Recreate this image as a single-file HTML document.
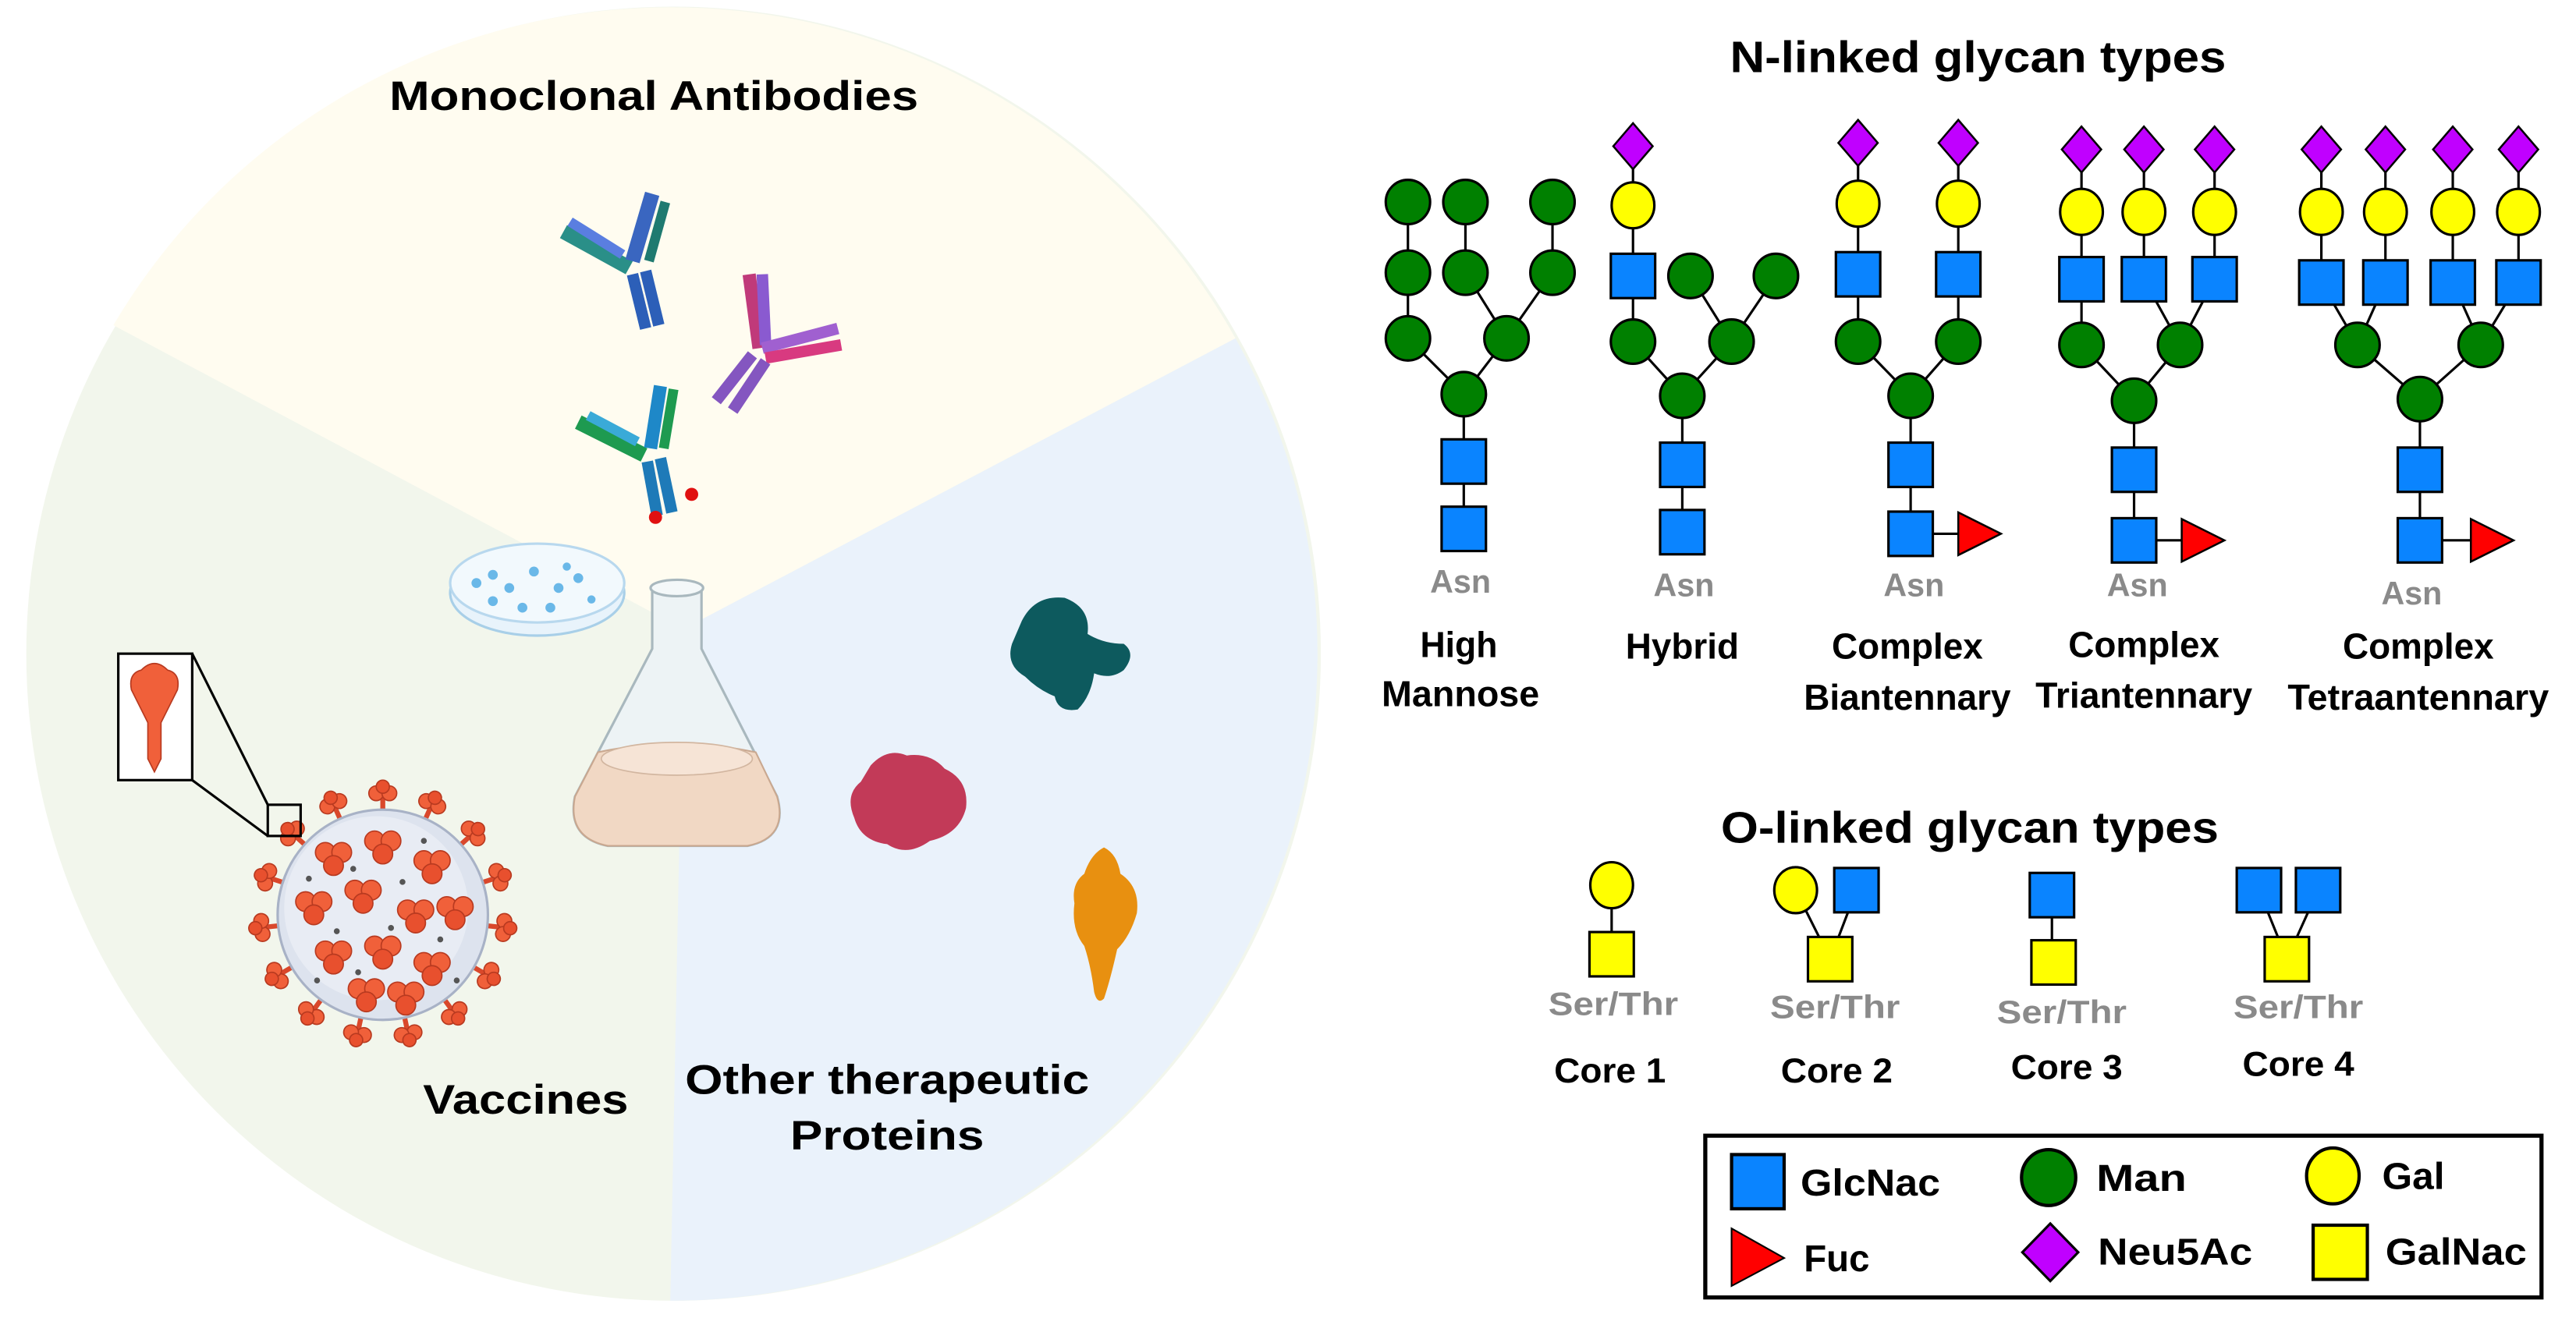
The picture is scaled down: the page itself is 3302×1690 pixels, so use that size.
<!DOCTYPE html>
<html><head><meta charset="utf-8"><style>
html,body{margin:0;padding:0;background:#fff;}
svg{display:block;}
.t{font-family:"Liberation Sans",sans-serif;font-weight:bold;fill:#000;}
.n{font-family:"Liberation Sans Narrow","Liberation Sans",sans-serif;font-weight:bold;fill:#000;}
.g{font-family:"Liberation Sans Narrow","Liberation Sans",sans-serif;font-weight:bold;fill:#8a8a8a;}
</style></head><body>
<svg width="3302" height="1690" viewBox="0 0 1568 802.5" xmlns="http://www.w3.org/2000/svg">
<defs>
<circle id="man" r="13.5" fill="#008000" stroke="#000" stroke-width="1.5"/>
<ellipse id="gal" rx="13" ry="14" fill="#ffff00" stroke="#000" stroke-width="1.5"/>
<rect id="sq" x="-13.5" y="-13.5" width="27" height="27" fill="#0a84ff" stroke="#000" stroke-width="1.5"/>
<rect id="ysq" x="-13.5" y="-13.5" width="27" height="27" fill="#ffff00" stroke="#000" stroke-width="1.5"/>
<polygon id="dia" points="0,-14 12,0 0,14 -12,0" fill="#c000ff" stroke="#000" stroke-width="1.2"/>
<polygon id="fuc" points="0,-13 26,0 0,13" fill="#ff0000" stroke="#000" stroke-width="1.2"/>
<g id="virspike"><path d="M0,0 L0,-10" stroke="#d9482b" stroke-width="3"/><circle cx="-4" cy="-12" r="4.5" fill="#f0603a" stroke="#b83a20" stroke-width="0.8"/><circle cx="4" cy="-12" r="4.5" fill="#f0603a" stroke="#b83a20" stroke-width="0.8"/><circle cx="0" cy="-16" r="4" fill="#e8502e" stroke="#b83a20" stroke-width="0.8"/></g>
<g id="blob3"><circle cx="-5" cy="-3" r="6" fill="#f0603a" stroke="#b83a20" stroke-width="0.8"/><circle cx="5" cy="-3" r="6" fill="#f0603a" stroke="#b83a20" stroke-width="0.8"/><circle cx="0" cy="5" r="6" fill="#e8502e" stroke="#b83a20" stroke-width="0.8"/></g>
</defs>

<!-- pie -->
<circle cx="410" cy="398" r="394" fill="#f2f6ec"/>
<path d="M416,383 L69,198 A394,394 0 0 1 752,206 Z" fill="#fffcf0"/>
<path d="M416,383 L752,206 A394,394 0 0 1 408,792 Z" fill="#eaf2fb"/>

<text class="t" x="398" y="67" font-size="25" text-anchor="middle" textLength="322" lengthAdjust="spacingAndGlyphs">Monoclonal Antibodies</text>
<text class="t" x="320" y="678" font-size="25" text-anchor="middle" textLength="125" lengthAdjust="spacingAndGlyphs">Vaccines</text>
<text class="t" x="540" y="666" font-size="25" text-anchor="middle" textLength="246" lengthAdjust="spacingAndGlyphs">Other therapeutic</text>
<text class="t" x="540" y="700" font-size="25" text-anchor="middle" textLength="118" lengthAdjust="spacingAndGlyphs">Proteins</text>

<!-- antibodies -->
<g stroke-linecap="butt">
 <g transform="translate(383,163)">
  <line x1="0" y1="0" x2="-40" y2="-22" stroke="#2a8f88" stroke-width="9"/>
  <line x1="-4" y1="-8" x2="-36" y2="-28" stroke="#5a7ee0" stroke-width="6"/>
  <line x1="2" y1="-4" x2="14" y2="-45" stroke="#3a66c0" stroke-width="9"/>
  <line x1="12" y1="-4" x2="22" y2="-40" stroke="#1f7a70" stroke-width="6"/>
  <line x1="2" y1="4" x2="10" y2="37" stroke="#2c5fb8" stroke-width="7"/>
  <line x1="10" y1="2" x2="18" y2="35" stroke="#2c5fb8" stroke-width="7"/>
 </g>
 <g transform="translate(462,212)">
  <line x1="0" y1="0" x2="-6" y2="-45" stroke="#c03a7a" stroke-width="8"/>
  <line x1="4" y1="-2" x2="2" y2="-45" stroke="#8a5ad0" stroke-width="7"/>
  <line x1="2" y1="0" x2="48" y2="-12" stroke="#a060d0" stroke-width="7"/>
  <line x1="4" y1="6" x2="50" y2="-2" stroke="#d83a80" stroke-width="7"/>
  <line x1="-4" y1="4" x2="-26" y2="32" stroke="#8456c0" stroke-width="7"/>
  <line x1="4" y1="8" x2="-16" y2="38" stroke="#8456c0" stroke-width="7"/>
 </g>
 <g transform="translate(392,277)">
  <line x1="0" y1="0" x2="-40" y2="-20" stroke="#1e9a50" stroke-width="9"/>
  <line x1="-4" y1="-8" x2="-34" y2="-24" stroke="#3aaad8" stroke-width="6"/>
  <line x1="4" y1="-4" x2="10" y2="-42" stroke="#1e88c8" stroke-width="8"/>
  <line x1="12" y1="-4" x2="18" y2="-40" stroke="#1e9a50" stroke-width="6"/>
  <line x1="2" y1="4" x2="8" y2="37" stroke="#1e7ab8" stroke-width="7"/>
  <line x1="10" y1="2" x2="17" y2="35" stroke="#1e7ab8" stroke-width="7"/>
 </g>
 <circle cx="399" cy="315" r="4" fill="#e01010"/><circle cx="421" cy="301" r="4" fill="#e01010"/>
</g>

<!-- petri dish -->
<ellipse cx="327" cy="361" rx="53" ry="26" fill="#e8f3fb" stroke="#a8cfe8" stroke-width="1.5"/>
<ellipse cx="327" cy="355" rx="53" ry="24" fill="#f2f9fd" stroke="#b8d8ee" stroke-width="1.5"/>
<g fill="#6ab8e8"><circle cx="290" cy="355" r="3"/><circle cx="300" cy="350" r="3"/><circle cx="310" cy="358" r="3"/><circle cx="325" cy="348" r="3"/><circle cx="340" cy="358" r="3"/><circle cx="352" cy="352" r="3"/><circle cx="318" cy="370" r="3"/><circle cx="335" cy="370" r="3"/><circle cx="300" cy="366" r="3"/><circle cx="360" cy="365" r="2.5"/><circle cx="345" cy="345" r="2.5"/></g>

<!-- flask -->
<path d="M397,358 L397,395 L350,485 Q345,510 370,515 L455,515 Q480,510 473,485 L427,395 L427,358 Z" fill="#edf3f5" stroke="#a9b8be" stroke-width="1.5"/>
<ellipse cx="412" cy="358" rx="16" ry="5" fill="#f4f8f9" stroke="#a9b8be" stroke-width="1.5"/>
<path d="M364,458 Q412,448 460,458 L473,485 Q480,510 455,515 L370,515 Q345,510 350,485 Z" fill="#f1d8c4" stroke="#c9a890" stroke-width="1"/>
<ellipse cx="412" cy="462" rx="46" ry="10" fill="#f6e4d6" stroke="#d2b6a0" stroke-width="0.8"/>

<!-- proteins -->
<path d="M622,378 Q630,362 648,364 Q664,370 662,386 Q672,392 684,392 Q692,398 684,408 Q676,414 666,410 Q664,424 656,432 Q644,434 642,424 Q632,420 624,412 Q612,405 616,392 Z" fill="#0d5a5e"/>
<path d="M530,466 Q540,455 552,460 Q566,458 575,468 Q590,475 588,492 Q584,508 566,512 Q552,522 540,514 Q524,512 520,498 Q514,484 524,476 Z" fill="#c23a58"/>
<path d="M660,532 Q664,520 672,516 Q680,520 682,532 Q694,540 692,556 Q688,570 680,578 Q676,596 672,608 Q668,612 666,604 Q664,588 660,576 Q652,566 654,550 Q652,538 660,532 Z" fill="#e89010"/>

<!-- virus -->
<g>
 <g transform="translate(233,557)">
  <g id="spk">
   <use href="#virspike" transform="rotate(0) translate(0,-62)"/>
   <use href="#virspike" transform="rotate(24) translate(0,-62)"/>
   <use href="#virspike" transform="rotate(48) translate(0,-62)"/>
   <use href="#virspike" transform="rotate(72) translate(0,-62)"/>
   <use href="#virspike" transform="rotate(96) translate(0,-62)"/>
   <use href="#virspike" transform="rotate(120) translate(0,-62)"/>
   <use href="#virspike" transform="rotate(144) translate(0,-62)"/>
   <use href="#virspike" transform="rotate(168) translate(0,-62)"/>
   <use href="#virspike" transform="rotate(192) translate(0,-62)"/>
   <use href="#virspike" transform="rotate(216) translate(0,-62)"/>
   <use href="#virspike" transform="rotate(240) translate(0,-62)"/>
   <use href="#virspike" transform="rotate(264) translate(0,-62)"/>
   <use href="#virspike" transform="rotate(288) translate(0,-62)"/>
   <use href="#virspike" transform="rotate(312) translate(0,-62)"/>
   <use href="#virspike" transform="rotate(336) translate(0,-62)"/>
  </g>
  <circle r="64" fill="#dde3ee" stroke="#a8b2c6" stroke-width="1.5"/>
  <circle r="56" cx="-4" cy="-4" fill="#e8ecf4"/>
  <use href="#blob3" x="-30" y="-35"/><use href="#blob3" x="0" y="-42"/><use href="#blob3" x="30" y="-30"/>
  <use href="#blob3" x="-42" y="-5"/><use href="#blob3" x="-12" y="-12"/><use href="#blob3" x="20" y="0"/><use href="#blob3" x="44" y="-2"/>
  <use href="#blob3" x="-30" y="25"/><use href="#blob3" x="0" y="22"/><use href="#blob3" x="30" y="32"/>
  <use href="#blob3" x="-10" y="48"/><use href="#blob3" x="14" y="50"/>
  <g fill="#555"><circle cx="-18" cy="-28" r="1.8"/><circle cx="12" cy="-20" r="1.8"/><circle cx="-28" cy="10" r="1.8"/><circle cx="5" cy="8" r="1.8"/><circle cx="35" cy="15" r="1.8"/><circle cx="-15" cy="35" r="1.8"/><circle cx="25" cy="-45" r="1.8"/><circle cx="-45" cy="-22" r="1.8"/><circle cx="45" cy="40" r="1.8"/><circle cx="-40" cy="40" r="1.8"/></g>
 </g>
</g>
<!-- inset -->
<rect x="72" y="398" width="45" height="77" fill="#fff" stroke="#000" stroke-width="1.5"/>
<path d="M86,408 Q94,400 102,408 Q110,410 108,420 L98,440 L98,462 L94,470 L90,462 L90,440 L80,420 Q78,410 86,408 Z" fill="#f0603a" stroke="#b83a20" stroke-width="0.8"/>
<rect x="163" y="490" width="20" height="19" fill="none" stroke="#000" stroke-width="1.5"/>
<line x1="117" y1="398" x2="163" y2="490" stroke="#000" stroke-width="1.5"/>
<line x1="117" y1="475" x2="163" y2="509" stroke="#000" stroke-width="1.5"/>

<!-- N-linked -->
<text class="n" x="1204" y="44" font-size="27" text-anchor="middle" textLength="302" lengthAdjust="spacingAndGlyphs">N-linked glycan types</text>
<g stroke="#000" stroke-width="1.5" fill="none">
 <!-- HM -->
 <path d="M857,123 V206 M892,123 V166 M945,123 V166 M892,166 L917,206 M945,166 L917,206 M857,206 L891,240 M917,206 L891,240 M891,240 V322"/>
 <!-- Hybrid -->
 <path d="M994,89 V208 M1029,168 L1054,208 M1081,168 L1054,208 M994,208 L1024,241 M1054,208 L1024,241 M1024,241 V324"/>
 <!-- Bi -->
 <path d="M1131,87 V208 M1192,87 V208 M1131,208 L1163,241 M1192,208 L1163,241 M1163,241 V325 H1195"/>
 <!-- Tri -->
 <path d="M1267,91 V210 M1305,91 V170 M1348,91 V170 M1305,170 L1327,210 M1348,170 L1327,210 M1267,210 L1299,244 M1327,210 L1299,244 M1299,244 V329 H1330"/>
 <!-- Tetra -->
 <path d="M1413,91 V172 M1452,91 V172 M1493,91 V172 M1533,91 V172 M1413,172 L1435,210 M1452,172 L1435,210 M1493,172 L1510,210 M1533,172 L1510,210 M1435,210 L1473,243 M1510,210 L1473,243 M1473,243 V329 H1506"/>
</g>
<!-- HM nodes -->
<use href="#man" x="857" y="123"/><use href="#man" x="892" y="123"/><use href="#man" x="945" y="123"/>
<use href="#man" x="857" y="166"/><use href="#man" x="892" y="166"/><use href="#man" x="945" y="166"/>
<use href="#man" x="857" y="206"/><use href="#man" x="917" y="206"/><use href="#man" x="891" y="240"/>
<use href="#sq" x="891" y="281"/><use href="#sq" x="891" y="322"/>
<!-- Hybrid nodes -->
<use href="#dia" x="994" y="89"/><use href="#gal" x="994" y="125"/><use href="#sq" x="994" y="168"/>
<use href="#man" x="1029" y="168"/><use href="#man" x="1081" y="168"/>
<use href="#man" x="994" y="208"/><use href="#man" x="1054" y="208"/><use href="#man" x="1024" y="241"/>
<use href="#sq" x="1024" y="283"/><use href="#sq" x="1024" y="324"/>
<!-- Bi nodes -->
<use href="#dia" x="1131" y="87"/><use href="#dia" x="1192" y="87"/>
<use href="#gal" x="1131" y="124"/><use href="#gal" x="1192" y="124"/>
<use href="#sq" x="1131" y="167"/><use href="#sq" x="1192" y="167"/>
<use href="#man" x="1131" y="208"/><use href="#man" x="1192" y="208"/><use href="#man" x="1163" y="241"/>
<use href="#sq" x="1163" y="283"/><use href="#sq" x="1163" y="325"/><use href="#fuc" x="1192" y="325"/>
<!-- Tri nodes -->
<use href="#dia" x="1267" y="91"/><use href="#dia" x="1305" y="91"/><use href="#dia" x="1348" y="91"/>
<use href="#gal" x="1267" y="129"/><use href="#gal" x="1305" y="129"/><use href="#gal" x="1348" y="129"/>
<use href="#sq" x="1267" y="170"/><use href="#sq" x="1305" y="170"/><use href="#sq" x="1348" y="170"/>
<use href="#man" x="1267" y="210"/><use href="#man" x="1327" y="210"/><use href="#man" x="1299" y="244"/>
<use href="#sq" x="1299" y="286"/><use href="#sq" x="1299" y="329"/><use href="#fuc" x="1328" y="329"/>
<!-- Tetra nodes -->
<use href="#dia" x="1413" y="91"/><use href="#dia" x="1452" y="91"/><use href="#dia" x="1493" y="91"/><use href="#dia" x="1533" y="91"/>
<use href="#gal" x="1413" y="129"/><use href="#gal" x="1452" y="129"/><use href="#gal" x="1493" y="129"/><use href="#gal" x="1533" y="129"/>
<use href="#sq" x="1413" y="172"/><use href="#sq" x="1452" y="172"/><use href="#sq" x="1493" y="172"/><use href="#sq" x="1533" y="172"/>
<use href="#man" x="1435" y="210"/><use href="#man" x="1510" y="210"/><use href="#man" x="1473" y="243"/>
<use href="#sq" x="1473" y="286"/><use href="#sq" x="1473" y="329"/><use href="#fuc" x="1504" y="329"/>

<!-- N labels -->
<g font-size="20">
<text class="g" x="889" y="361" text-anchor="middle" textLength="37" lengthAdjust="spacingAndGlyphs">Asn</text>
<text class="g" x="1025" y="363" text-anchor="middle" textLength="37" lengthAdjust="spacingAndGlyphs">Asn</text>
<text class="g" x="1165" y="363" text-anchor="middle" textLength="37" lengthAdjust="spacingAndGlyphs">Asn</text>
<text class="g" x="1301" y="363" text-anchor="middle" textLength="37" lengthAdjust="spacingAndGlyphs">Asn</text>
<text class="g" x="1468" y="368" text-anchor="middle" textLength="37" lengthAdjust="spacingAndGlyphs">Asn</text>
</g>
<g font-size="22">
<text class="n" x="888" y="400" text-anchor="middle" textLength="47" lengthAdjust="spacingAndGlyphs">High</text>
<text class="n" x="889" y="430" text-anchor="middle" textLength="96" lengthAdjust="spacingAndGlyphs">Mannose</text>
<text class="n" x="1024" y="401" text-anchor="middle" textLength="69" lengthAdjust="spacingAndGlyphs">Hybrid</text>
<text class="n" x="1161" y="401" text-anchor="middle" textLength="92" lengthAdjust="spacingAndGlyphs">Complex</text>
<text class="n" x="1161" y="432" text-anchor="middle" textLength="126" lengthAdjust="spacingAndGlyphs">Biantennary</text>
<text class="n" x="1305" y="400" text-anchor="middle" textLength="92" lengthAdjust="spacingAndGlyphs">Complex</text>
<text class="n" x="1305" y="431" text-anchor="middle" textLength="132" lengthAdjust="spacingAndGlyphs">Triantennary</text>
<text class="n" x="1472" y="401" text-anchor="middle" textLength="92" lengthAdjust="spacingAndGlyphs">Complex</text>
<text class="n" x="1472" y="432" text-anchor="middle" textLength="159" lengthAdjust="spacingAndGlyphs">Tetraantennary</text>
</g>

<!-- O-linked -->
<text class="n" x="1199" y="513" font-size="27" text-anchor="middle" textLength="303" lengthAdjust="spacingAndGlyphs">O-linked glycan types</text>
<g stroke="#000" stroke-width="1.5" fill="none">
 <path d="M981,539 V581 M1093,542 L1114,584 M1130,542 L1114,584 M1249,545 V586 M1375,542 L1392,584 M1411,542 L1392,584"/>
</g>
<use href="#gal" x="981" y="539"/><use href="#ysq" x="981" y="581"/>
<use href="#gal" x="1093" y="542"/><use href="#sq" x="1130" y="542"/><use href="#ysq" x="1114" y="584"/>
<use href="#sq" x="1249" y="545"/><use href="#ysq" x="1250" y="586"/>
<use href="#sq" x="1375" y="542"/><use href="#sq" x="1411" y="542"/><use href="#ysq" x="1392" y="584"/>
<g font-size="20">
<text class="g" x="982" y="618" text-anchor="middle" textLength="79" lengthAdjust="spacingAndGlyphs">Ser/Thr</text>
<text class="g" x="1117" y="620" text-anchor="middle" textLength="79" lengthAdjust="spacingAndGlyphs">Ser/Thr</text>
<text class="g" x="1255" y="623" text-anchor="middle" textLength="79" lengthAdjust="spacingAndGlyphs">Ser/Thr</text>
<text class="g" x="1399" y="620" text-anchor="middle" textLength="79" lengthAdjust="spacingAndGlyphs">Ser/Thr</text>
</g>
<g font-size="21">
<text class="n" x="980" y="659" text-anchor="middle" textLength="68" lengthAdjust="spacingAndGlyphs">Core 1</text>
<text class="n" x="1118" y="659" text-anchor="middle" textLength="68" lengthAdjust="spacingAndGlyphs">Core 2</text>
<text class="n" x="1258" y="657" text-anchor="middle" textLength="68" lengthAdjust="spacingAndGlyphs">Core 3</text>
<text class="n" x="1399" y="655" text-anchor="middle" textLength="68" lengthAdjust="spacingAndGlyphs">Core 4</text>
</g>

<!-- legend -->
<rect x="1038" y="691.5" width="509" height="98.5" fill="#fff" stroke="#000" stroke-width="2.5"/>
<rect x="1054" y="703" width="32" height="33" fill="#0a84ff" stroke="#000" stroke-width="2"/>
<ellipse cx="1247" cy="717" rx="16.5" ry="17" fill="#008000" stroke="#000" stroke-width="2"/>
<ellipse cx="1420" cy="716" rx="16" ry="17" fill="#ffff00" stroke="#000" stroke-width="2"/>
<polygon points="1054,748 1086,766 1054,783" fill="#ff0000" stroke="#000" stroke-width="1"/>
<polygon points="1248,745 1265,762.5 1248,780 1231,762.5" fill="#c000ff" stroke="#000" stroke-width="1.5"/>
<rect x="1408" y="746" width="33" height="33" fill="#ffff00" stroke="#000" stroke-width="2"/>
<g font-size="23">
<text class="n" x="1096" y="728" textLength="85" lengthAdjust="spacingAndGlyphs">GlcNac</text>
<text class="n" x="1276" y="725" textLength="55" lengthAdjust="spacingAndGlyphs">Man</text>
<text class="n" x="1450" y="724" textLength="38" lengthAdjust="spacingAndGlyphs">Gal</text>
<text class="n" x="1098" y="774" textLength="40" lengthAdjust="spacingAndGlyphs">Fuc</text>
<text class="n" x="1277" y="770" textLength="94" lengthAdjust="spacingAndGlyphs">Neu5Ac</text>
<text class="n" x="1452" y="770" textLength="86" lengthAdjust="spacingAndGlyphs">GalNac</text>
</g>
</svg>
</body></html>
